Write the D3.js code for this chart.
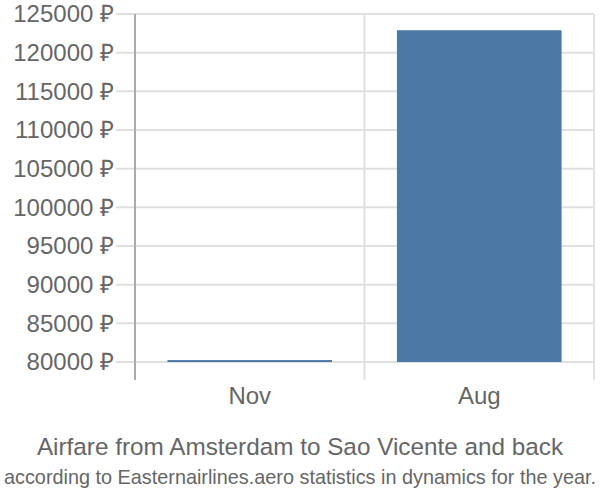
<!DOCTYPE html>
<html><head><meta charset="utf-8">
<script src="https://cdn.jsdelivr.net/npm/d3@7"></script>
<style>body{margin:0;background:#fff;} text{font-family:"Liberation Sans",Arial,sans-serif;}</style>
</head><body>
<svg id="c" width="600" height="500"></svg>
<script>
const categories = ["Nov", "Aug"];
const values = [80250, 122900];
const yTicks = [80000, 85000, 90000, 95000, 100000, 105000, 110000, 115000, 120000, 125000];
const title = "Airfare from Amsterdam to Sao Vicente and back";
const subtitle = "according to Easternairlines.aero statistics in dynamics for the year.";

(function(){
const svg = d3.select("#c");
const left = 135, right = 594, topY = 14, bottomY = 362, axisBottom = 380;
const x = d3.scaleBand().domain(categories).range([left, right]).paddingInner(0.2826).paddingOuter(0.1413);
const y = d3.scaleLinear().domain([80000, 125000]).range([bottomY, topY]);

// horizontal grid
svg.append("g").selectAll("line").data(yTicks).join("line")
  .attr("x1", 116).attr("x2", right).attr("y1", d => y(d)).attr("y2", d => y(d))
  .attr("stroke", "#e0e0e0").attr("stroke-width", 2);
// vertical grid at band boundaries
const bounds = categories.map(c => x(c) - x.step()*x.paddingInner()/2 + x.step());
svg.append("g").selectAll("line").data(bounds).join("line")
  .attr("x1", d => d).attr("x2", d => d).attr("y1", topY).attr("y2", axisBottom)
  .attr("stroke", "#e0e0e0").attr("stroke-width", 2);
// y axis line
svg.append("line").attr("x1", left).attr("x2", left).attr("y1", topY).attr("y2", axisBottom)
  .attr("stroke", "#aaa").attr("stroke-width", 2);

// bars
svg.append("g").selectAll("rect").data(values).join("rect")
  .attr("x", (d, i) => x(categories[i])).attr("width", x.bandwidth())
  .attr("y", d => y(d)).attr("height", d => bottomY - y(d))
  .attr("fill", "#4c78a6");

// y labels
svg.append("g").selectAll("text").data(yTicks).join("text")
  .attr("x", 114).attr("y", d => y(d)).attr("dy", "0.35em").attr("text-anchor", "end")
  .attr("font-size", 24).attr("fill", "#666").text(d => d + " ₽");
// x labels
svg.append("g").selectAll("text").data(categories).join("text")
  .attr("x", d => x(d) + x.bandwidth()/2).attr("y", 404).attr("text-anchor", "middle")
  .attr("font-size", 24).attr("fill", "#666").text(d => d);

svg.append("text").attr("x", 300).attr("y", 455).attr("text-anchor", "middle")
  .attr("font-size", 24.3).attr("fill", "#666").text(title);
svg.append("text").attr("x", 300).attr("y", 484).attr("text-anchor", "middle")
  .attr("font-size", 19.8).attr("fill", "#666")
  .attr("textLength", 592).attr("lengthAdjust", "spacingAndGlyphs").text(subtitle);
})();
</script>
</body></html>
